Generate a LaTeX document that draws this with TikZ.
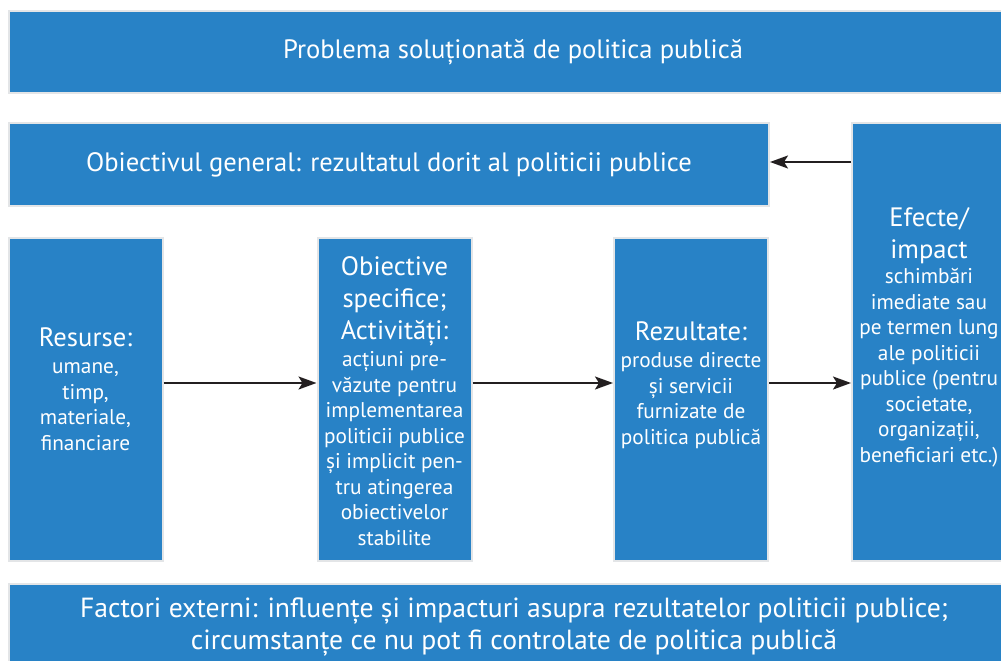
\documentclass[tikz,border=0pt]{standalone}
\usepackage{fontspec}
\setmainfont{PT Sans}
\usetikzlibrary{arrows.meta,positioning}
\definecolor{boxblue}{HTML}{2882C6}
\definecolor{boxrim}{HTML}{E3E5E7}
\definecolor{arrowink}{HTML}{231F20}
\newcommand{\headtxt}{\fontsize{26.6}{31.5}\selectfont}
\newcommand{\bodytxt}{\fontsize{21.3}{25.5}\selectfont\lineskiplimit=-50pt}

\begin{document}
\begin{tikzpicture}[x=1pt,y=-1pt]
  \tikzstyle{box} = [rectangle, draw=boxrim, fill=boxblue, line width=2pt, text=white, align=center, inner sep=0pt]
  \tikzstyle{column} = [box, minimum width=154pt, minimum height=323pt]
  \tikzstyle{boxtext} = [text=white, align=center, inner sep=0pt, font=\bodytxt]
  \tikzstyle{link} = [line width=2pt, draw=arrowink, -{Stealth[length=18pt,width=13pt,inset=4pt]}]
  \useasboundingbox (0,0) rectangle (1001,661);
  % upper bands
  \node (problema) [box, minimum width=1008pt, minimum height=82pt] at (513,52) {\headtxt Problema soluționată de politica publică};
  \node (general) [box, minimum width=760pt, minimum height=83pt] at (389,164.5) {\headtxt Obiectivul general: rezultatul dorit al politicii publice};
  % middle row
  \node (resurse) [column] at (85.5,399.5) {};
  \node (activitati) [column] at (394.5,399.5) {};
  \node (rezultate) [column] at (691,399.5) {};
  \node (efecte) [box, minimum width=154pt, minimum height=438pt] at (929,342) {};
  \node (resurse-t) [boxtext] at (85.5,389) {\headtxt Resurse:\\[1.5pt]umane,\\timp,\\materiale,\\financiare};
  \node (activitati-t) [boxtext] at (394.5,401) {\headtxt Obiective\\[6.5pt]\headtxt specifice;\\[6.5pt]\headtxt Activități:\\[1.5pt]acțiuni pre-\\văzute pentru\\implementarea\\politicii publice\\și implicit pen-\\tru atingerea\\obiectivelor\\stabilite};
  \node (rezultate-t) [boxtext] at (691,385) {\headtxt Rezultate:\\[1.5pt]produse directe\\și servicii\\furnizate de\\politica publică};
  \node (efecte-t) [boxtext] at (929,337.5) {\headtxt Efecte/\\[6.5pt]\headtxt impact\\[-0.5pt]schimbări\\imediate sau\\pe termen lung\\ale politicii\\publice (pentru\\societate,\\organizații,\\beneficiari etc.)};
  % bottom band
  \node (factori) [box, minimum width=1010pt, minimum height=86pt, font=\fontsize{27.7}{32}\selectfont] at (514,627) {Factori externi: influențe și impacturi asupra rezultatelor politicii publice;\\circumstanțe ce nu pot fi controlate de politica publică};
  \coordinate (flow) at (0,383);
  \coordinate (back) at (0,162);
  \draw [link] (resurse.east |- flow) -- (activitati.west |- flow);
  \draw [link] (activitati.east |- flow) -- (rezultate.west |- flow);
  \draw [link] (rezultate.east |- flow) -- (efecte.west |- flow);
  \draw [link] (efecte.west |- back) -- (general.east |- back);
\end{tikzpicture}
\end{document}
